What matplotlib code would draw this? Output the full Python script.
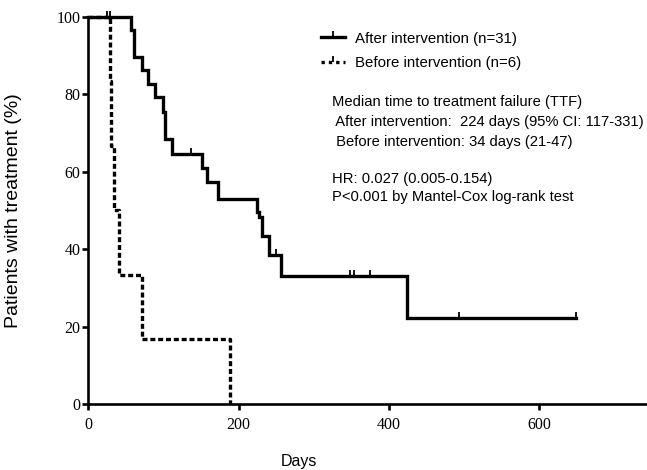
import matplotlib
matplotlib.use("Agg")
import matplotlib.pyplot as plt
from matplotlib.path import Path
from matplotlib.lines import Line2D

# ---- data ----
after_times = [0, 56.8, 61.2, 71, 79.8, 88.7, 99, 102, 111.8, 151.7, 157.5, 172, 224.8, 226.5, 231, 240, 256, 424, 648]
after_surv = [100, 96.6, 89.7, 86.2, 82.7, 79.3, 75.5, 68.5, 64.6, 61.0, 57.2, 53.0, 49.6, 48.4, 43.4, 38.6, 33.1, 22.1, 22.1]
after_cens_t = [25.3, 28.9, 137, 249, 348, 354, 374, 493, 648]
after_cens_s = [100, 100, 64.6, 38.6, 33.1, 33.1, 33.1, 22.1, 22.1]

before_times = [0, 29, 30.5, 34, 40.5, 72, 189]
before_surv = [100, 83.3, 66.7, 50, 33.3, 16.7, 0]

x_ticks = [0, 200, 400, 600]
y_ticks = [0, 20, 40, 60, 80, 100]
label_after = "After intervention (n=31)"
label_before = "Before intervention (n=6)"
info_lines = ["Median time to treatment failure (TTF)",
              " After intervention:  224 days (95% CI: 117-331)",
              " Before intervention: 34 days (21-47)"]
stat_lines = ["HR: 0.027 (0.005-0.154)",
              "P<0.001 by Mantel-Cox log-rank test"]

W, H = 647, 470
fig = plt.figure(figsize=(W / 100, H / 100), dpi=100)
ax = fig.add_axes([88.3 / W, 1 - 404 / H, 1 - 88.3 / W, (404 - 16.7) / H])

sans = ["Liberation Sans", "DejaVu Sans"]
serif = ["Liberation Serif", "DejaVu Serif"]

tick_up = Path([(0, 0), (0, 1)], [Path.MOVETO, Path.LINETO])

lw = 2.4
msize = 9
ax.step(after_times, after_surv, where="post", color="black", lw=lw,
        solid_joinstyle="miter", clip_on=False, zorder=3)
ax.step(before_times, before_surv, where="post", color="black", lw=lw,
        linestyle=(0, (1.5, 0.85)), clip_on=False, zorder=2)
ax.plot(after_cens_t, after_cens_s, linestyle="none", marker=tick_up,
        markersize=msize, markeredgewidth=1.3, color="black", clip_on=False, zorder=4)

ax.set_xlim(0, 743)
ax.set_ylim(0, 100)
ax.set_xticks(x_ticks)
ax.set_yticks(y_ticks)
ax.spines["top"].set_visible(False)
ax.spines["right"].set_visible(False)
for s in ("left", "bottom"):
    ax.spines[s].set_linewidth(1.9)
ax.tick_params(axis="both", direction="out", length=4.5, width=1.9, labelsize=11.5)
ax.tick_params(axis="y", pad=1)
ax.tick_params(axis="x", pad=5)
for lab in ax.get_xticklabels() + ax.get_yticklabels():
    lab.set_family(serif)

ax.set_xlabel("Days", family=sans, fontsize=11.5)
ax.xaxis.set_label_coords((299 - 88.3) / (W - 88.3), -0.13)
ax.set_ylabel("Patients with treatment (%)", family=sans, fontsize=14)
ax.yaxis.set_label_coords(-(88.3 - 22) / (W - 88.3), 0.5)

handles = [Line2D([], [], color="black", lw=lw, marker=tick_up, markersize=msize,
                  markeredgewidth=1.3),
           Line2D([], [], color="black", lw=lw, linestyle=(0, (1.0, 1.2)),
                  marker=tick_up, markersize=msize, markeredgewidth=1.3)]
leg = fig.legend(handles, [label_after, label_before], loc="upper left",
                 bbox_to_anchor=(321 / W, 1 - 31.5 / H), frameon=False,
                 handlelength=1.6, handletextpad=0.65, labelspacing=0.72,
                 prop={"family": sans, "size": 10.8}, borderaxespad=0, borderpad=0)

ys = [102, 122, 142]
for t, y in zip(info_lines, ys):
    fig.text(332 / W, 1 - y / H, t, family=sans, fontsize=10.6, va="center", ha="left")
for t, y in zip(stat_lines, [179, 197]):
    fig.text(332 / W, 1 - y / H, t, family=sans, fontsize=10.6, va="center", ha="left")

fig.savefig("out.png", dpi=100)
